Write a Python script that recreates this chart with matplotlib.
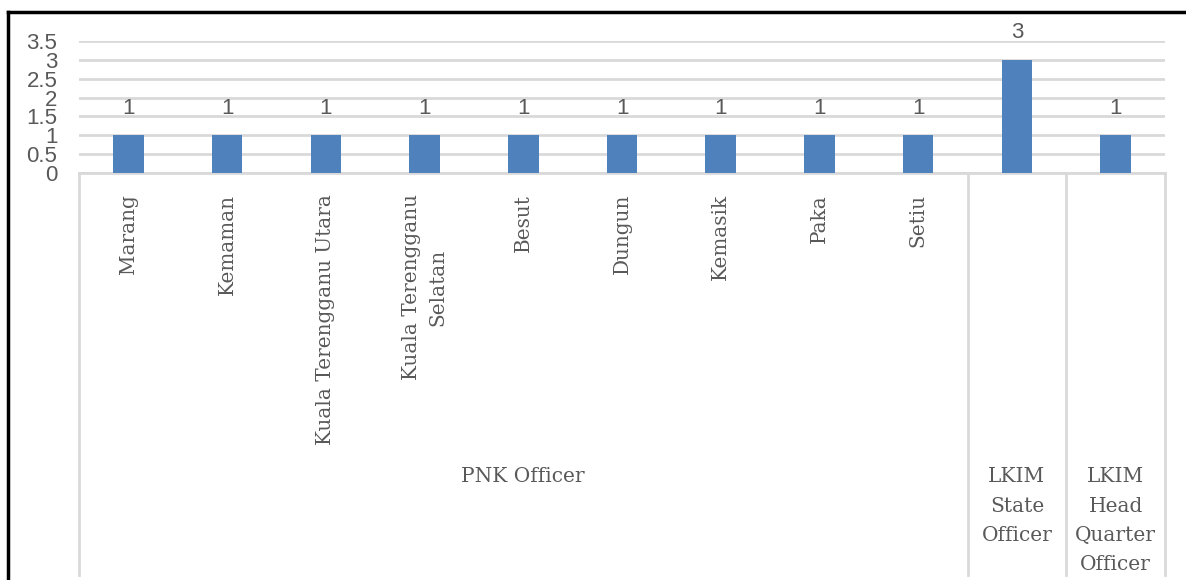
import matplotlib
matplotlib.use("Agg")
import matplotlib.pyplot as plt
from matplotlib.lines import Line2D
import numpy as np

categories = ["Marang", "Kemaman", "Kuala Terengganu Utara", "Kuala Terengganu\nSelatan",
              "Besut", "Dungun", "Kemasik", "Paka", "Setiu", "", ""]
values = [1, 1, 1, 1, 1, 1, 1, 1, 1, 3, 1]
groups = ["PNK Officer", "LKIM\nState\nOfficer", "LKIM\nHead\nQuarter\nOfficer"]
group_sizes = [9, 1, 1]
yticks = [0, 0.5, 1, 1.5, 2, 2.5, 3, 3.5]

W, H = 1186, 580
fig = plt.figure(figsize=(W / 100, H / 100), dpi=100)
fig.patch.set_facecolor("white")
ax = fig.add_axes([79 / W, 1 - 173 / H, (1165 - 79) / W, (173 - 41) / H])

grey = "#595959"
gridc = "#d9d9d9"
x = np.arange(len(values))
ax.bar(x, values, width=0.31, color="#4f81bd", zorder=3)
ax.set_xlim(-0.5, len(values) - 0.5)
ax.set_ylim(0, 3.5)
ax.set_yticks(yticks)
ax.set_yticklabels([f"{t:g}" for t in yticks], fontsize=16, color=grey, family="Liberation Sans")
ax.tick_params(axis="y", length=0, pad=15.5)
ax.tick_params(axis="x", length=0, labelbottom=False)
for s in ax.spines.values():
    s.set_visible(False)
ax.yaxis.grid(True, color=gridc, linewidth=2, zorder=0)
ax.set_axisbelow(True)

for xi, v in zip(x, values):
    ax.annotate(f"{v:g}", (xi, v), xytext=(0, 12), textcoords="offset points",
                ha="center", va="bottom", fontsize=16, color=grey, family="Liberation Sans")

trans = ax.get_xaxis_transform()
# category labels
for xi, c in zip(x, categories):
    if c:
        ax.text(xi, -0.16, c, rotation=90, ha="center", va="top", multialignment="center",
                transform=trans, fontsize=14.4, color=grey, family="DejaVu Serif",
                linespacing=1.5)

# separators
bounds = np.concatenate([[0], np.cumsum(group_sizes)]) - 0.5
ax.plot([bounds[0], bounds[-1]], [0, 0], color=gridc, lw=2, transform=trans, clip_on=False, zorder=1)
for b in bounds:
    ax.plot([b, b], [0, -402 / 132], color=gridc, lw=2, transform=trans, clip_on=False)

# group labels
for i, g in enumerate(groups):
    cx = (bounds[i] + bounds[i + 1]) / 2
    ax.text(cx, -(467 - 173) / 132, g, ha="center", va="top", transform=trans,
            fontsize=14.5, color=grey, family="DejaVu Serif", linespacing=1.7)

# outer frame
fig.add_artist(Line2D([8 / W, 1], [1 - 12 / H, 1 - 12 / H], color="black", lw=2.5))
fig.add_artist(Line2D([8 / W, 8 / W], [1 - 12 / H, 0], color="black", lw=2.5))

fig.savefig("out.png", dpi=100, facecolor="white")
